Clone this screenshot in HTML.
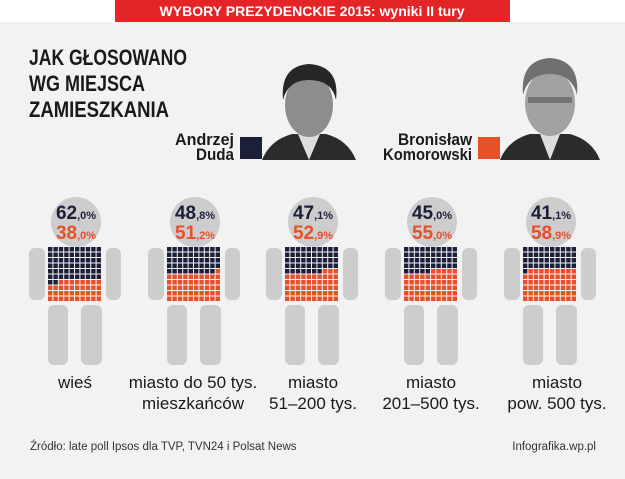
<!DOCTYPE html>
<html><head><meta charset="utf-8"><style>
html,body{margin:0;padding:0;background:#f2f2f2;}
svg{display:block;font-family:"Liberation Sans Narrow","Liberation Sans",sans-serif;}
</style></head><body>
<svg id="s" width="625" height="479" viewBox="0 0 625 479" xmlns="http://www.w3.org/2000/svg">
<rect width="625" height="479" fill="#f2f2f2"/>
<rect width="625" height="22" fill="#ffffff"/>
<rect x="115" y="0" width="395" height="22" fill="#e42528"/>
<text x="312" y="16" text-anchor="middle" fill="#fff" font-weight="bold" font-size="14" textLength="305" lengthAdjust="spacingAndGlyphs">WYBORY PREZYDENCKIE 2015: wyniki II tury</text>
<g fill="#1a1a1a" font-weight="bold" font-size="22">
<text x="29" y="65" textLength="158" lengthAdjust="spacingAndGlyphs">JAK GŁOSOWANO</text>
<text x="29" y="91" textLength="116" lengthAdjust="spacingAndGlyphs">WG MIEJSCA</text>
<text x="29" y="117" textLength="140" lengthAdjust="spacingAndGlyphs">ZAMIESZKANIA</text>
</g>
<g>
<path d="M262 160 Q270 140 292 134 L326 134 Q348 140 356 160 Z" fill="#2b2b2b"/>
<path d="M298 134 L309 160 L320 134 Z" fill="#ddd"/>
<ellipse cx="309" cy="105" rx="24" ry="32" fill="#8d8d8d"/>
<path d="M283 100 Q280 66 309 64 Q340 66 336 100 Q332 80 309 80 Q288 80 283 100 Z" fill="#262626"/>
</g>
<g>
<path d="M500 160 Q508 140 530 134 L570 134 Q592 140 600 160 Z" fill="#2b2b2b"/>
<path d="M540 134 L550 160 L560 134 Z" fill="#ddd"/>
<ellipse cx="550" cy="103" rx="25" ry="33" fill="#a2a2a2"/>
<path d="M523 95 Q520 60 550 58 Q580 60 577 95 Q572 74 550 74 Q528 74 523 95 Z" fill="#707070"/>
<rect x="528" y="97" width="44" height="6" fill="#555" opacity=".6"/>
</g>
<g fill="#1a1a1a" font-weight="bold" font-size="17">
<text x="175" y="145" textLength="59" lengthAdjust="spacingAndGlyphs">Andrzej</text>
<text x="196" y="160" textLength="38" lengthAdjust="spacingAndGlyphs">Duda</text>
<text x="398" y="145" textLength="74" lengthAdjust="spacingAndGlyphs">Bronisław</text>
<text x="383" y="160" textLength="89" lengthAdjust="spacingAndGlyphs">Komorowski</text>
</g>
<rect x="240" y="137" width="22" height="22" fill="#1c1f3a"/>
<rect x="478" y="137" width="22" height="22" fill="#e8502a"/>
<g id="figs"></g>
<g fill="#1a1a1a" font-size="17" text-anchor="middle">
<text x="75" y="388">wieś</text>
<text x="193" y="388">miasto do 50 tys.</text>
<text x="193" y="409">mieszkańców</text>
<text x="313" y="388">miasto</text>
<text x="313" y="409">51–200 tys.</text>
<text x="431" y="388">miasto</text>
<text x="431" y="409">201–500 tys.</text>
<text x="557" y="388">miasto</text>
<text x="557" y="409">pow. 500 tys.</text>
</g>
<text x="30" y="450" font-size="11.5" fill="#333">Źródło: late poll Ipsos dla TVP, TVN24 i Polsat News</text>
<text x="596" y="450" font-size="11.5" fill="#333" text-anchor="end">Infografika.wp.pl</text>
</svg>
<script>
var data=[[75,62,"62",",0%","38",",0%"],[194,49,"48",",8%","51",",2%"],[312,47,"47",",1%","52",",9%"],[431,45,"45",",0%","55",",0%"],[550,41,"41",",1%","58",",9%"]];
var ns="http://www.w3.org/2000/svg",g=document.getElementById("figs");
function el(t,a,txt){var e=document.createElementNS(ns,t);for(var k in a)e.setAttribute(k,a[k]);if(txt!=null)e.textContent=txt;g.appendChild(e);return e;}
data.forEach(function(d){var c=d[0];
el("circle",{cx:c+1,cy:222,r:25,fill:"#cdcdcd"});
el("rect",{x:c-46,y:248,width:16,height:52,rx:6,fill:"#cdcdcd"});
el("rect",{x:c+31,y:248,width:15,height:52,rx:6,fill:"#cdcdcd"});
el("rect",{x:c-27,y:305,width:20,height:60,rx:6,fill:"#cdcdcd"});
el("rect",{x:c+6,y:305,width:21,height:60,rx:6,fill:"#cdcdcd"});
for(var i=0;i<100;i++){var r=Math.floor(i/10),k=i%10;
el("rect",{x:c-27+k*5.4,y:247+r*5.5,width:4.4,height:4.5,fill:i<d[1]?"#1c1f3a":"#e8502a"});}
var t=el("text",{x:c+1,y:219,"text-anchor":"middle","font-weight":"bold","font-size":19,fill:"#1c1f3a"});
t.innerHTML=d[2]+'<tspan font-size="11">'+d[3]+'</tspan>';
var t2=el("text",{x:c+1,y:239,"text-anchor":"middle","font-weight":"bold","font-size":19,fill:"#e8502a"});
t2.innerHTML=d[4]+'<tspan font-size="11">'+d[5]+'</tspan>';
});
</script>
</body></html>
